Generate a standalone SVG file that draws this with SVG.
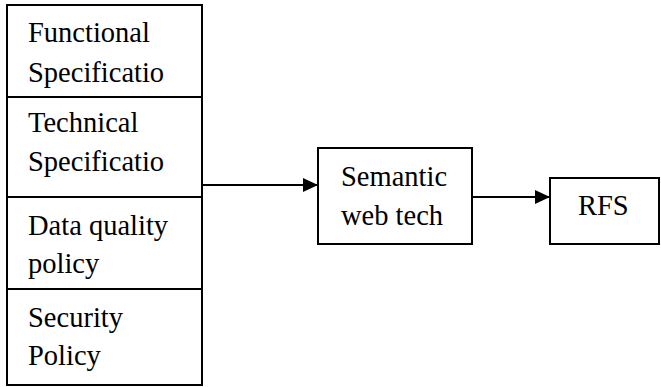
<svg xmlns="http://www.w3.org/2000/svg" width="661" height="387" viewBox="0 0 661 387">
<style>
.box{fill:#fff;stroke:#000;stroke-width:2}
.lbl{font-family:'Liberation Serif','Times New Roman',serif;font-size:28.5px;fill:#000}
.c{stroke:#000;stroke-width:2;fill:none}
</style>
<defs>
<marker id="ah" markerWidth="15" markerHeight="14" refX="15" refY="7" orient="auto" markerUnits="userSpaceOnUse">
<path d="M0,0 L15,7 L0,14 Z" fill="#000"/>
</marker>
</defs>
<g id="functional"><rect class="box" x="7" y="5" width="195" height="92"/><text class="lbl" x="28" y="42">Functional</text><text class="lbl" x="28" y="82">Specificatio</text></g>
<g id="technical"><rect class="box" x="7" y="97" width="195" height="100"/><text class="lbl" x="28" y="132">Technical</text><text class="lbl" x="28" y="171">Specificatio</text></g>
<g id="dataquality"><rect class="box" x="7" y="197" width="195" height="92"/><text class="lbl" x="28" y="235">Data quality</text><text class="lbl" x="28" y="273">policy</text></g>
<g id="security"><rect class="box" x="7" y="289" width="195" height="96"/><text class="lbl" x="28" y="327">Security</text><text class="lbl" x="28" y="365">Policy</text></g>
<g id="semantic"><rect class="box" x="318" y="148" width="154" height="96"/><text class="lbl" x="341" y="186">Semantic</text><text class="lbl" x="341" y="225">web tech</text></g>
<g id="rfs"><rect class="box" x="550" y="178" width="109" height="66"/><text class="lbl" x="578" y="215">RFS</text></g>
<g id="connectors">
<line class="c" x1="202" y1="185" x2="318" y2="185" marker-end="url(#ah)"/>
<line class="c" x1="472" y1="197" x2="550" y2="197" marker-end="url(#ah)"/>
</g>
</svg>
